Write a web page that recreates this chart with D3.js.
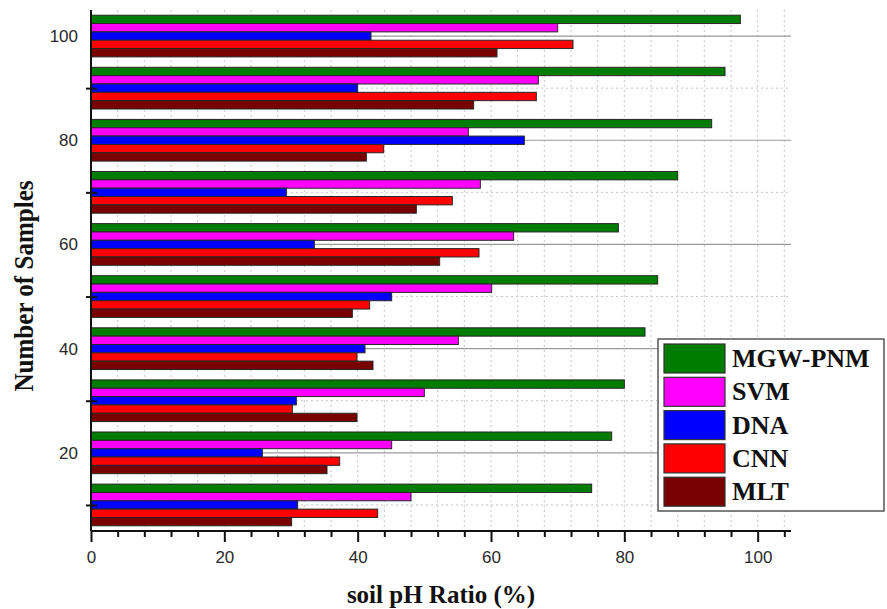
<!DOCTYPE html>
<html>
<head>
<meta charset="utf-8">
<script src="https://cdn.jsdelivr.net/npm/d3@7"></script>
<style>
  body { margin: 0; background: #fff; }
  svg { display: block; }
  .tick text { font-family: "Liberation Sans", Arial, sans-serif; font-size: 17px; fill: #2a2a2a; }
  .title { font-family: "Liberation Serif", "Times New Roman", serif; font-weight: bold; fill: #111; }
</style>
</head>
<body>
<svg id="chart" width="887" height="609"></svg>
<script>
// values, top group first
var samples = [100, 90, 80, 70, 60, 50, 40, 30, 20, 10];
var seriesNames = ["MGW-PNM", "SVM", "DNA", "CNN", "MLT"];
var seriesColors = ["#007d00", "#ff00ff", "#0000ff", "#ff0000", "#780000"];
var mgwPnm = [97.4, 95.1, 93.1, 88.0, 79.1, 85.0, 83.1, 80.0, 78.1, 75.1];
var svmVals = [70.0, 67.1, 56.6, 58.4, 63.4, 60.1, 55.1, 50.0, 45.1, 48.0];
var dnaVals = [42.0, 40.0, 65.0, 29.3, 33.5, 45.1, 41.1, 30.8, 25.7, 31.0];
var cnnVals = [72.3, 66.8, 43.9, 54.2, 58.2, 41.8, 39.9, 30.2, 37.3, 43.0];
var mltVals = [60.9, 57.4, 41.3, 48.8, 52.3, 39.2, 42.3, 39.9, 35.4, 30.1];
var xTicks = d3.range(0, 105, 4);
var xLabels = [0, 20, 40, 60, 80, 100];
var yTicks = [10, 20, 30, 40, 50, 60, 70, 80, 90, 100];
var yLabels = [20, 40, 60, 80, 100];

var allSeries = [mgwPnm, svmVals, dnaVals, cnnVals, mltVals];

var svg = d3.select("#chart");
var margin = {top: 10, right: 96, bottom: 78, left: 91};
var width = 887 - margin.left - margin.right,
    height = 609 - margin.top - margin.bottom;

var x = d3.scaleLinear().domain([0, 105]).range([0, width]);
var y = d3.scaleLinear().domain([5, 105]).range([height, 0]);

var g = svg.append("g").attr("transform", "translate(" + margin.left + "," + margin.top + ")");

// grid
g.append("g").selectAll("line")
  .data(xTicks.filter(function(d) { return d > 0; }))
  .enter().append("line")
    .attr("x1", function(d) { return x(d); })
    .attr("x2", function(d) { return x(d); })
    .attr("y1", 0).attr("y2", height)
    .attr("stroke", "#c4c4c4")
    .attr("stroke-dasharray", "2,3");

g.append("g").selectAll("line")
  .data(yTicks)
  .enter().append("line")
    .attr("x1", 0).attr("x2", width)
    .attr("y1", function(d) { return y(d); })
    .attr("y2", function(d) { return y(d); })
    .attr("stroke", function(d) { return d % 20 === 0 ? "#9a9a9a" : "#c4c4c4"; })
    .attr("stroke-width", function(d) { return d % 20 === 0 ? 1.2 : 1; })
    .attr("stroke-dasharray", function(d) { return d % 20 === 0 ? null : "2,3"; });

// bars
var inner = d3.scaleBand().domain(seriesNames).paddingInner(0).paddingOuter(0);

var groups = g.append("g").selectAll("g")
  .data(samples)
  .enter().append("g");

groups.each(function(s, i) {
  inner.range([y(s + 4), y(s - 4)]);
  d3.select(this).selectAll("rect")
    .data(seriesNames)
    .enter().append("rect")
      .attr("x", x(0))
      .attr("y", function(name) { return inner(name); })
      .attr("height", inner.bandwidth())
      .attr("width", function(name, k) { return x(allSeries[k][i]) - x(0); })
      .attr("fill", function(name, k) { return seriesColors[k]; })
      .attr("stroke", "#262626")
      .attr("stroke-width", 1);
});

// x axis
var xAxis = g.append("g")
  .attr("transform", "translate(0," + height + ")")
  .call(d3.axisBottom(x).tickValues(xTicks).tickSizeOuter(0)
    .tickFormat(function(d) { return xLabels.indexOf(d) >= 0 ? d : ""; }));
xAxis.select(".domain").attr("stroke", "#111").attr("stroke-width", 2)
  .attr("d", "M0,0H" + width);
xAxis.selectAll(".tick line")
  .attr("stroke", "#111").attr("stroke-width", 2)
  .attr("y1", 0)
  .attr("y2", function(d) { return xLabels.indexOf(d) >= 0 ? 11 : 6; });
xAxis.selectAll(".tick text").attr("y", 20).attr("dy", "0.71em");

// y axis
var yAxis = g.append("g")
  .call(d3.axisLeft(y).tickValues(yTicks).tickSizeOuter(0)
    .tickFormat(function(d) { return yLabels.indexOf(d) >= 0 ? d : ""; }));
yAxis.select(".domain").attr("stroke", "#111").attr("stroke-width", 2)
  .attr("d", "M0,0V" + height);
yAxis.selectAll(".tick line")
  .attr("stroke", "#111").attr("stroke-width", 2)
  .attr("x1", function(d) { return yLabels.indexOf(d) >= 0 ? 0 : -5; })
  .attr("x2", function(d) { return yLabels.indexOf(d) >= 0 ? 0 : 6; });
yAxis.selectAll(".tick text").attr("x", -13);

// axis titles
svg.append("text")
  .attr("class", "title")
  .attr("x", 441).attr("y", 603)
  .attr("text-anchor", "middle")
  .style("font-size", "25px")
  .text("soil pH Ratio (%)");

svg.append("text")
  .attr("class", "title")
  .attr("transform", "translate(33,286) rotate(-90)")
  .attr("text-anchor", "middle")
  .attr("textLength", 211)
  .attr("lengthAdjust", "spacingAndGlyphs")
  .style("font-size", "28px")
  .text("Number of Samples");

// legend
var legend = svg.append("g").attr("transform", "translate(658,339)");
legend.append("rect")
  .attr("width", 226).attr("height", 172)
  .attr("fill", "#fff")
  .attr("stroke", "#555").attr("stroke-width", 1.5);

var items = legend.selectAll("g.item")
  .data(seriesNames)
  .enter().append("g")
    .attr("class", "item")
    .attr("transform", function(d, k) { return "translate(6," + (5 + k * 33.3) + ")"; });
items.append("rect")
  .attr("width", 61).attr("height", 29)
  .attr("fill", function(d, k) { return seriesColors[k]; })
  .attr("stroke", "#333").attr("stroke-width", 1.2);
items.append("text")
  .attr("class", "title")
  .attr("x", 68).attr("y", 23)
  .style("font-size", "26px")
  .text(function(d) { return d; });
</script>
</body>
</html>
